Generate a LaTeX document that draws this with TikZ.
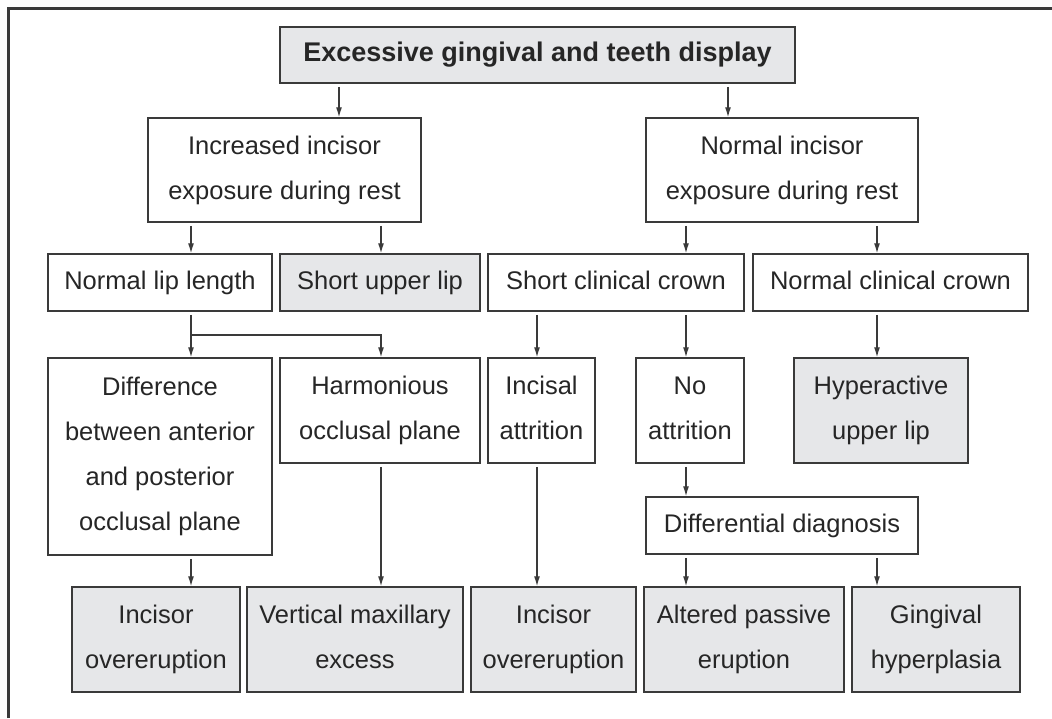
\documentclass[tikz,border=0pt]{standalone}
\usepackage{fontspec}
\setmainfont{Liberation Sans}
\usetikzlibrary{arrows.meta}
\definecolor{edge}{HTML}{3A3A3A}
\definecolor{boxfill}{HTML}{E6E7E9}
\definecolor{ink}{HTML}{262626}
\newcommand{\zstrut}{\vphantom{Apg}}
\tikzset{
  box/.style={draw=edge, line width=1.5pt, inner sep=0pt, align=center, text=ink,
    font=\fontsize{25.5}{45}\selectfont,
    execute at begin node=\zstrut, execute at end node=\zstrut},
  graybox/.style={box, fill=boxfill},
  arr/.style={draw=edge, line width=1.2pt, -{Latex[length=10pt,width=6pt]}, shorten <=3pt},
  branch/.style={draw=edge, line width=1.2pt, -{Latex[length=10pt,width=6pt]}},
  frame/.style={draw=edge, line width=2.5pt}
}
\begin{document}
\begin{tikzpicture}[x=1pt,y=-1pt]
\useasboundingbox (0,0) rectangle (1052,718);
\draw[frame] (8.5,718) -- (8.5,8.5) -- (1052,8.5);

% nodes
\node[graybox, minimum width=515pt, minimum height=56pt, font=\fontsize{27}{32}\bfseries] (top) at (537.5,55) {Excessive gingival and teeth display};
\node[box, minimum width=273pt, minimum height=104pt] (inc) at (284.5,170) {Increased incisor\\exposure during rest};
\node[box, minimum width=272pt, minimum height=104pt] (nor) at (782,170) {Normal incisor\\exposure during rest};

\node[box, minimum width=224pt, minimum height=57pt] (nll) at (160,282.5) {Normal lip length};
\node[graybox, minimum width=200pt, minimum height=57pt] (sul) at (380,282.5) {Short upper lip};
\node[box, minimum width=256pt, minimum height=57pt] (scc) at (616,282.5) {Short clinical crown};
\node[box, minimum width=275pt, minimum height=57pt] (ncc) at (890.5,282.5) {Normal clinical crown};

\node[box, minimum width=224pt, minimum height=197pt] (dif) at (160,456.5) {Difference\\between anterior\\and posterior\\occlusal plane};
\node[box, minimum width=200pt, minimum height=105pt] (har) at (380,410.5) {Harmonious\\occlusal plane};
\node[box, minimum width=107pt, minimum height=105pt] (ina) at (541.5,410.5) {Incisal\\attrition};
\node[box, minimum width=108pt, minimum height=105pt] (noa) at (690,410.5) {No\\attrition};
\node[graybox, minimum width=174pt, minimum height=105pt] (hyp) at (881,410.5) {Hyperactive\\upper lip};

\node[box, minimum width=272pt, minimum height=57pt] (ddx) at (782,525.5) {Differential diagnosis};

\node[graybox, minimum width=168pt, minimum height=105pt] (b1) at (156,639.5) {Incisor\\overeruption};
\node[graybox, minimum width=216pt, minimum height=105pt] (b2) at (355,639.5) {Vertical maxillary\\excess};
\node[graybox, minimum width=165pt, minimum height=105pt] (b3) at (553.5,639.5) {Incisor\\overeruption};
\node[graybox, minimum width=200pt, minimum height=105pt] (b4) at (744,639.5) {Altered passive\\eruption};
\node[graybox, minimum width=168pt, minimum height=105pt] (b5) at (936,639.5) {Gingival\\hyperplasia};

% connector x positions
\coordinate (xa) at (339,0);
\coordinate (xb) at (728,0);
\coordinate (xc) at (191,0);
\coordinate (xd) at (381,0);
\coordinate (xe) at (686,0);
\coordinate (xf) at (877,0);
\coordinate (xg) at (537,0);
\coordinate (j1) at (191,335);

\draw[arr] (top.south -| xa) -- (inc.north -| xa);
\draw[arr] (top.south -| xb) -- (nor.north -| xb);
\draw[arr] (inc.south -| xc) -- (nll.north -| xc);
\draw[arr] (inc.south -| xd) -- (sul.north -| xd);
\draw[arr] (nor.south -| xe) -- (scc.north -| xe);
\draw[arr] (nor.south -| xf) -- (ncc.north -| xf);

\draw[arr] (nll.south -| xc) -- (dif.north -| xc);
\draw[branch] (j1) -| (har.north -| xd);
\draw[arr] (scc.south -| xg) -- (ina.north -| xg);
\draw[arr] (scc.south -| xe) -- (noa.north -| xe);
\draw[arr] (ncc.south -| xf) -- (hyp.north -| xf);

\draw[arr] (dif.south -| xc) -- (b1.north -| xc);
\draw[arr] (har.south -| xd) -- (b2.north -| xd);
\draw[arr] (ina.south -| xg) -- (b3.north -| xg);
\draw[arr] (noa.south -| xe) -- (ddx.north -| xe);
\draw[arr] (ddx.south -| xe) -- (b4.north -| xe);
\draw[arr] (ddx.south -| xf) -- (b5.north -| xf);
\end{tikzpicture}
\end{document}
